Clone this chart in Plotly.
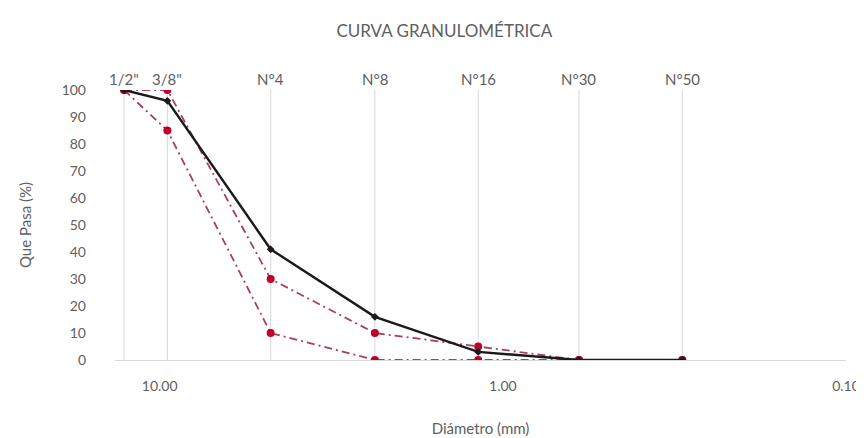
import math
import plotly.graph_objects as go

# Sieve data
sieve_names = ['1/2"', '3/8"', 'N°4', 'N°8', 'N°16', 'N°30', 'N°50']
sieve_mm = [12.7, 9.5, 4.75, 2.36, 1.18, 0.6, 0.3]

sample_pass = [100, 96, 41, 16, 3, 0, 0]
upper_limit = [100, 100, 30, 10, 5, 0, 0]
lower_limit = [100, 85, 10, 0, 0, 0, 0]

x_ticks = [10, 1, 0.1]
x_ticktext = ["10.00", "1.00", "0.10"]
y_ticks = [0, 10, 20, 30, 40, 50, 60, 70, 80, 90, 100]

FONT = "Lato"
GRAY = "#606060"
RED = "#c0002a"
REDLINE = "#a8405a"
DASHDOT = "8px,4px,2px,4px"

fig = go.Figure()

# vertical sieve gridlines
for xv in sieve_mm:
    fig.add_shape(type="line", xref="x", yref="y", x0=xv, x1=xv, y0=0, y1=100,
                  line=dict(color="#d9d9d9", width=1), layer="below")

fig.add_trace(go.Scatter(x=sieve_mm, y=upper_limit, mode="lines+markers",
                         line=dict(color=REDLINE, width=1.8, dash=DASHDOT),
                         marker=dict(color=RED, size=8, symbol="circle"),
                         name="Límite superior", showlegend=False))
fig.add_trace(go.Scatter(x=sieve_mm, y=lower_limit, mode="lines+markers",
                         line=dict(color=REDLINE, width=1.8, dash=DASHDOT),
                         marker=dict(color=RED, size=8, symbol="circle"),
                         name="Límite inferior", showlegend=False))
fig.add_trace(go.Scatter(x=sieve_mm, y=sample_pass, mode="lines+markers",
                         line=dict(color="#1a1a1a", width=2.4),
                         marker=dict(color="#1a1a1a", size=6, symbol="diamond"),
                         name="Muestra", showlegend=False))

# sieve labels on top
for name, xv in zip(sieve_names, sieve_mm):
    fig.add_annotation(x=math.log10(xv), xref="x", y=1.08, yref="paper",
                       text=name, showarrow=False,
                       font=dict(family=FONT, size=15, color=GRAY))

fig.update_layout(
    width=864, height=438,
    margin=dict(l=107, r=16, t=82, b=76),
    paper_bgcolor="white", plot_bgcolor="white",
    title=dict(text="CURVA GRANULOMÉTRICA", x=0.505, xanchor="center",
               y=1 - 23 / 438, yanchor="middle",
               font=dict(family=FONT, size=17, color=GRAY)),
    font=dict(family=FONT, color=GRAY),
    xaxis=dict(type="log", range=[math.log10(13.5), -1],
               tickvals=x_ticks, ticktext=x_ticktext,
               showgrid=False, zeroline=False,
               showline=True, linecolor="#d9d9d9", linewidth=1,
               ticks="", ticklabelstandoff=13,
               tickfont=dict(family=FONT, size=14, color=GRAY),
               title=dict(text="Diámetro (mm)", standoff=30,
                          font=dict(family=FONT, size=15, color=GRAY))),
    yaxis=dict(range=[0, 100], tickvals=y_ticks,
               showgrid=False, zeroline=False, showline=False,
               ticks="", ticklabelstandoff=28,
               tickfont=dict(family=FONT, size=14, color=GRAY),
               title=dict(text="Que Pasa (%)", standoff=26,
                          font=dict(family=FONT, size=15, color=GRAY))),
)

fig.write_html("out.html")
